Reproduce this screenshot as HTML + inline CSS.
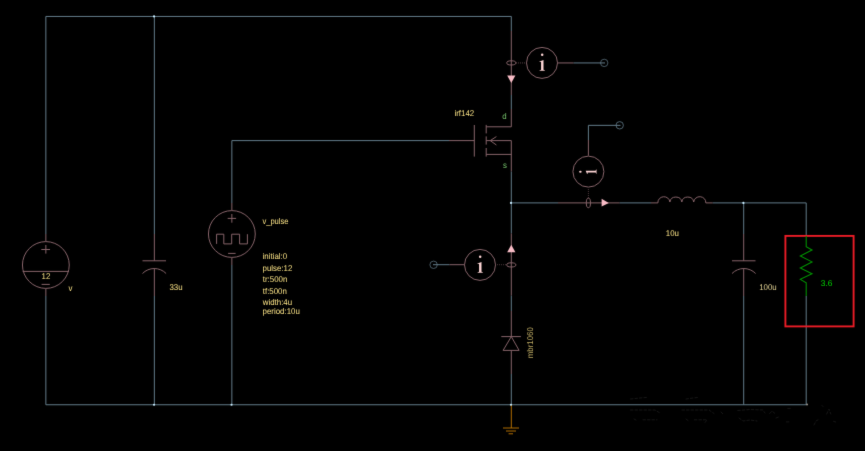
<!DOCTYPE html>
<html><head><meta charset="utf-8">
<style>
html,body{margin:0;padding:0;background:#000;width:865px;height:451px;overflow:hidden}
svg{display:block}
text{font-family:"Liberation Sans",sans-serif;font-size:8.4px;text-rendering:geometricPrecision}
</style></head><body>
<svg width="865" height="451" viewBox="0 0 865 451">
<defs><filter id="b" x="0" y="0" width="865" height="451" filterUnits="userSpaceOnUse" color-interpolation-filters="sRGB"><feConvolveMatrix order="3" kernelMatrix="0.00810 0.07380 0.00810 0.07380 0.67240 0.07380 0.00810 0.07380 0.00810" divisor="1" edgeMode="none" preserveAlpha="false"/></filter></defs>
<rect width="865" height="451" fill="#000"/>
<g filter="url(#b)">

<g stroke="#627b89" stroke-width="1" fill="none">
<path d="M45.85 234V16.45H511.3V31"/>
<path d="M45.85 296V404.75H806.2V296"/>
<path d="M154.35 16.45V234M154.35 296V404.75"/>
<path d="M231.85 203V140.6H449"/>
<path d="M231.85 265V404.75"/>
<path d="M511.3 95V109M511.3 171.500V233.500M511.3 295.500V311M511.3 374V404.75"/>
<path d="M511.3 202.9H558M619.500 202.9H651M712.600 202.9H806.2V236"/>
<path d="M743.7 202.9V234M743.7 296V404.75"/>
<path d="M573.500 62.950H605"/><circle cx="604.200" cy="62.900" r="3.700" stroke-opacity="0.700"/>
<path d="M588.400 140V125.350H620.500"/><circle cx="619.700" cy="125.300" r="3.700" stroke-opacity="0.800"/>
<path d="M449.500 264.700H433"/><circle cx="433.600" cy="264.800" r="3.700" stroke-opacity="0.700"/>
</g>

<g stroke="#866369" stroke-width="1" fill="none">
<path d="M45.85 234V241M45.85 289V296"/><circle cx="45.85" cy="265" r="23.400"/>
<path d="M22.600 271.400H69M41.300 249.500H50M45.85 245V253.600M41.600 284.400H49.800"/>
<path d="M154.35 234V260.800M142.500 260.800H166M154.35 268.500V296M142.500 273.500A16.500 16.500 0 0 1 166.100 273.500"/>
<path d="M231.85 203V210M231.85 258V265"/><circle cx="231.85" cy="234" r="23.400"/>
<path d="M227.700 218.400H236.100M231.85 214V222.700M228.100 253.400H235.600"/>
<path d="M216.600 243.900V234.200H223.800V243.900H231.700V234.200H239.600V243.900H247.400V234.200"/>
<path d="M449 140.6H474.300M474.300 125V156.600M486.200 124.900V133.400M486.200 136.400V144.600M486.200 148V156.600"/>
<path d="M486.200 126.800H511.3V109M486.200 140.6H511.3V171.500M486.200 154.400H511.3"/>
<path d="M496.400 136.600L490.200 140.6L496.400 145"/>
<path d="M511.3 31V95"/><ellipse cx="511.3" cy="62.900" rx="4.600" ry="2.100"/>
<path d="M516 62.950H526" stroke-dasharray="1 1" stroke-opacity="0.650"/><circle cx="542" cy="62.900" r="15.500"/><path d="M558 62.950H573.500"/>
<path d="M558 202.9H619.500"/><ellipse cx="588.400" cy="202.9" rx="2.100" ry="4.800"/>
<path d="M588.400 189V198" stroke-dasharray="1 1" stroke-opacity="0.550"/><circle cx="588.400" cy="171.600" r="15.500"/><path d="M588.400 155.700V140"/>
<path d="M511.3 233.500V295.500"/><ellipse cx="511.3" cy="264.900" rx="4.600" ry="2.100"/>
<path d="M497 264.700H506.300" stroke-dasharray="1 1" stroke-opacity="0.550"/><circle cx="480" cy="264.900" r="15.500"/><path d="M464 264.700H449.500"/>
<path d="M511.3 311V336.600M511.3 350.400V374M501.300 336.600H520.900M511.3 336.600L519.100 350.400H503.100Z"/>
<path d="M651 202.9H657.900A6 5.700 0 0 1 669.900 202.00A6 5.700 0 0 1 681.800 202.00A6 5.700 0 0 1 693.700 202.00A6 5.700 0 0 1 705.800 202.9H712.600"/>
<path d="M743.7 234V260.800M732 260.800H755.500M743.7 268.500V296M732 273.500A16.500 16.500 0 0 1 755.600 273.500"/>
</g>

<g fill="#f8bcc6">
<path d="M507.200 75.600H515.400L511.3 83Z"/>
<path d="M601.600 198.800V206.400L608.800 202.9Z"/>
<path d="M507.200 252.200H515.400L511.3 244.800Z"/>
</g>

<g fill="#ffd6d6">
<g transform="translate(542.300 70.700)"><circle cx="-0.100" cy="-15.950" r="1.250"/><path d="M-2.800 -9.300L1.200 -10.700V-1.100Q1.200 -0.500 2.600 -0.450V0H-2.700V-0.450Q-1.200 -0.500 -1.200 -1.100V-8.500Q-1.200 -9.200 -2.800 -8.800Z"/></g>
<g transform="translate(480.300 272.700)"><circle cx="-0.100" cy="-15.950" r="1.250"/><path d="M-2.800 -9.300L1.200 -10.700V-1.100Q1.200 -0.500 2.600 -0.450V0H-2.700V-0.450Q-1.200 -0.500 -1.200 -1.100V-8.500Q-1.200 -9.200 -2.800 -8.800Z"/></g>
<g transform="translate(596.500 171.650) rotate(-90) scale(0.800 1.010)"><circle cx="-0.100" cy="-15.950" r="1.250"/><path d="M-2.800 -9.300L1.200 -10.700V-1.100Q1.200 -0.500 2.600 -0.450V0H-2.700V-0.450Q-1.200 -0.500 -1.200 -1.100V-8.500Q-1.200 -9.200 -2.800 -8.800Z"/></g>
</g>

<rect x="785.400" y="235.900" width="68.200" height="90.500" fill="none" stroke="#ea1c26" stroke-width="1.900"/>
<path d="M806.2 236V246.800L812 250L800.300 256L812 261.900L800.300 268L812 273.800L800.300 279.400L806.2 282.800V296" stroke="#009400" stroke-width="1.050" fill="none"/>
<path d="M511.3 404.75V428M503 428H519M506 431H516M508.600 433.800H513" stroke="#b87200" stroke-width="0.950" fill="none"/>

<g fill="#c8ecff"><circle cx="154.05" cy="16.45" r="1.120"/><circle cx="154.05" cy="404.75" r="1.120"/><circle cx="231.55" cy="404.75" r="1.120"/><circle cx="511.00" cy="404.75" r="1.120"/><circle cx="511.00" cy="202.9" r="1.120"/><circle cx="743.40" cy="202.9" r="1.120"/></g><circle cx="807" cy="404.500" r="1.100" fill="#8c8882"/>

<g stroke="#161616" stroke-width="1" fill="none" stroke-linecap="round" stroke-dasharray="2.500 2">
<path d="M630.500 399L640 398L647 397.400M686 399L693 398L698.600 397.400"/>
<path d="M630.500 410H655L660 413M682 410H709L714 413.500M721 412L723 414"/>
<path d="M634 419L636 420M643 419.800H657M686 419L688 420.500M694.400 419.800H707L705 422.500"/>
<path d="M737.800 410.500L750 409.500L762.800 410L765 413M739 418L743 421L750 420L757 421"/>
<path d="M769.700 413.500L772 411L775 413.500M776 418L780 416.500M787.800 408.400H792M786.400 421.900H790.500"/>
<path d="M826.700 414L829 409L830.800 414M814 425L816 421L818 419.800M822 405.500L823 406.500M833.600 421.400L835.700 422"/>
</g>
<text transform="translate(41.6 279) scale(0.94 1)" fill="#fbe386">12</text>
<text transform="translate(68.5 291) scale(0.94 1)" fill="#fbe386">v</text>
<text transform="translate(169.4 290) scale(0.94 1)" fill="#fbe386">33u</text>
<text transform="translate(262.4 224) scale(0.905 1)" fill="#fbe386">v_pulse</text>
<text transform="translate(262.6 259) scale(0.94 1)" fill="#fbe386">initial:0</text>
<text transform="translate(262.6 271) scale(0.94 1)" fill="#fbe386">pulse:12</text>
<text transform="translate(262.8 282) scale(0.94 1)" fill="#fbe386">tr:500n</text>
<text transform="translate(262.8 294) scale(0.94 1)" fill="#fbe386">tf:500n</text>
<text transform="translate(262.8 305) scale(0.94 1)" fill="#fbe386">width:4u</text>
<text transform="translate(262.6 314) scale(0.94 1)" fill="#fbe386">period:10u</text>
<text transform="translate(454.5 116) scale(0.94 1)" fill="#fbe386">irf142</text>
<text transform="translate(502.3 119) scale(0.94 1)" fill="#76c46c">d</text>
<text transform="translate(502.9 168) scale(0.94 1)" fill="#76c46c">s</text>
<text transform="translate(533 358.200) rotate(-90) scale(0.94 1)" fill="#bca962">mbr1060</text>
<text transform="translate(665.8 236) scale(0.94 1)" fill="#fbe386">10u</text>
<text transform="translate(759.2 290) scale(0.94 1)" fill="#e4d494">100u</text>
<text transform="translate(820.8 286) scale(1.0 1)" fill="#00d000">3.6</text>
</g>
</svg>
</body></html>
